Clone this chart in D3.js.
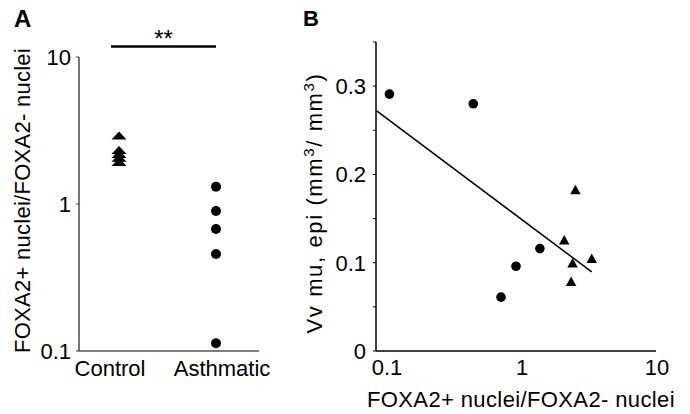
<!DOCTYPE html>
<html>
<head>
<meta charset="utf-8">
<script src="https://cdn.jsdelivr.net/npm/d3@7"></script>
<style>
  body { margin: 0; background: #fff; }
  svg text { font-family: "Liberation Sans", Arial, Helvetica, sans-serif; fill: #000; }
</style>
</head>
<body>
<svg id="chart" width="690" height="414"></svg>
<script>
// panel A: ratio per group (log scale)
var groups = ["Control", "Asthmatic"];
var control_ratio = [2.92, 2.33, 2.19, 2.06, 1.93];
var asthmatic_ratio = [1.31, 0.896, 0.676, 0.457, 0.113];
var a_ticks = [0.1, 1, 10];

// panel B: ratio vs Vv mu,epi
var b_asthmatic = [[0.106, 0.291], [0.443, 0.280], [1.38, 0.116], [0.918, 0.096], [0.711, 0.061]];
var b_control = [[2.53, 0.183], [2.09, 0.126], [2.41, 0.100], [3.34, 0.105], [2.35, 0.079]];
var b_fit = [[0.0853, 0.272], [3.34, 0.0896]];
var b_xticks = [0.1, 1, 10];
var b_yticks = [0, 0.1, 0.2, 0.3];
var b_yminor = [0.05, 0.15, 0.25, 0.35];

var svg = d3.select("#chart");
var fs = "22px";

function tri(w, h){
  return "M" + (-w/2) + "," + (h/2) + "L" + (w/2) + "," + (h/2) + "L0," + (-h/2) + "Z";
}

// spread letters so the text fills a given length
function fit_text(sel, target){
  var node = sel.node();
  var n = node.getNumberOfChars();
  var len = node.getComputedTextLength();
  sel.style("letter-spacing", ((target - len) / n) + "px");
}

// ---------- panel A ----------
var ya = d3.scaleLog().domain([0.1, 10]).range([351, 57]);
var xa = d3.scalePoint().domain(groups).range([119, 216]);
var gA = svg.append("g");
var grey = "#555";

gA.append("line").attr("x1", 79).attr("x2", 79).attr("y1", ya(10)).attr("y2", ya(0.1))
  .attr("stroke", grey).attr("stroke-width", 1.6);
gA.append("line").attr("x1", 79).attr("x2", 259).attr("y1", ya(0.1)).attr("y2", ya(0.1))
  .attr("stroke", grey).attr("stroke-width", 1.6);

gA.selectAll(".tk").data(a_ticks).enter().append("line")
  .attr("x1", 76).attr("x2", 79).attr("y1", function(d){ return ya(d); }).attr("y2", function(d){ return ya(d); })
  .attr("stroke", grey).attr("stroke-width", 1.2);
gA.selectAll(".tl").data(a_ticks).enter().append("text")
  .attr("x", 71).attr("y", function(d){ return ya(d); }).attr("dy", "0.36em")
  .attr("text-anchor", "end").style("font-size", fs)
  .text(function(d){ return d; });

var label_dx = {"Control": -9, "Asthmatic": 6};
gA.selectAll(".cl").data(groups).enter().append("text")
  .attr("x", function(d){ return xa(d) + label_dx[d]; }).attr("y", 376)
  .attr("text-anchor", "middle").style("font-size", fs)
  .text(function(d){ return d; });

gA.selectAll(".ct").data(control_ratio).enter().append("path")
  .attr("d", tri(15, 8))
  .attr("transform", function(d){ return "translate(" + xa("Control") + "," + ya(d) + ")"; })
  .attr("fill", "#000");
gA.selectAll(".as").data(asthmatic_ratio).enter().append("circle")
  .attr("cx", xa("Asthmatic")).attr("cy", function(d){ return ya(d); }).attr("r", 5)
  .attr("fill", "#000");

// significance bar
gA.append("line").attr("x1", xa("Control") - 8).attr("x2", xa("Asthmatic"))
  .attr("y1", 46.5).attr("y2", 46.5).attr("stroke", "#000").attr("stroke-width", 2.6);
gA.append("text").attr("x", (xa("Control") - 8 + xa("Asthmatic")) / 2).attr("y", 47)
  .attr("text-anchor", "middle").style("font-size", "24px").text("**");

var ta = gA.append("text").attr("transform", "translate(30,200.5) rotate(-90)")
  .attr("text-anchor", "middle").style("font-size", fs)
  .text("FOXA2+ nuclei/FOXA2- nuclei");
fit_text(ta, 305);

gA.append("text").attr("x", 14).attr("y", 27).style("font-size", "24px").style("font-weight", "bold").text("A");

// ---------- panel B ----------
var xb = d3.scaleLog().domain([0.0843, 10]).range([376, 656]);
var yb = d3.scaleLinear().domain([0, 0.35]).range([351, 42]);
var gB = svg.append("g");

gB.append("line").attr("x1", 376).attr("x2", 376).attr("y1", yb(0.35)).attr("y2", yb(0))
  .attr("stroke", "#000").attr("stroke-width", 1.5);
gB.append("line").attr("x1", 376).attr("x2", 656).attr("y1", yb(0)).attr("y2", yb(0))
  .attr("stroke", "#000").attr("stroke-width", 1.5);

gB.selectAll(".yt").data(b_yticks.concat(b_yminor)).enter().append("line")
  .attr("x1", 373).attr("x2", 376).attr("y1", function(d){ return yb(d); }).attr("y2", function(d){ return yb(d); })
  .attr("stroke", "#000").attr("stroke-width", 1);
gB.selectAll(".yl").data(b_yticks).enter().append("text")
  .attr("x", 366).attr("y", function(d){ return yb(d); }).attr("dy", "0.36em")
  .attr("text-anchor", "end").style("font-size", fs)
  .text(function(d){ return d; });
gB.selectAll(".xl").data(b_xticks).enter().append("text")
  .attr("x", function(d){ return xb(d) + 1; }).attr("y", 375)
  .attr("text-anchor", "middle").style("font-size", fs)
  .text(function(d){ return d; });

gB.append("path").datum(b_fit)
  .attr("d", d3.line().x(function(d){ return xb(d[0]); }).y(function(d){ return yb(d[1]); }))
  .attr("stroke", "#000").attr("stroke-width", 1.5).attr("fill", "none");

gB.selectAll(".bc").data(b_asthmatic).enter().append("circle")
  .attr("cx", function(d){ return xb(d[0]); }).attr("cy", function(d){ return yb(d[1]); }).attr("r", 4.8)
  .attr("fill", "#000");
gB.selectAll(".bt").data(b_control).enter().append("path")
  .attr("d", tri(10.5, 9.5))
  .attr("transform", function(d){ return "translate(" + xb(d[0]) + "," + yb(d[1]) + ")"; })
  .attr("fill", "#000");

var tx = gB.append("text").attr("x", 521).attr("y", 407).attr("text-anchor", "middle")
  .style("font-size", fs).text("FOXA2+ nuclei/FOXA2- nuclei");
fit_text(tx, 308);

var ty = gB.append("text").attr("transform", "translate(322,203) rotate(-90)")
  .attr("text-anchor", "middle").style("font-size", fs);
ty.append("tspan").text("Vv mu, epi (mm");
ty.append("tspan").attr("dy", -8).style("font-size", "15px").text("3");
ty.append("tspan").attr("dy", 8).text("/ mm");
ty.append("tspan").attr("dy", -8).style("font-size", "15px").text("3");
ty.append("tspan").attr("dy", 8).text(")");
fit_text(ty, 261);

gB.append("text").attr("x", 303).attr("y", 26).style("font-size", "22px").style("font-weight", "bold").text("B");
</script>
</body>
</html>
